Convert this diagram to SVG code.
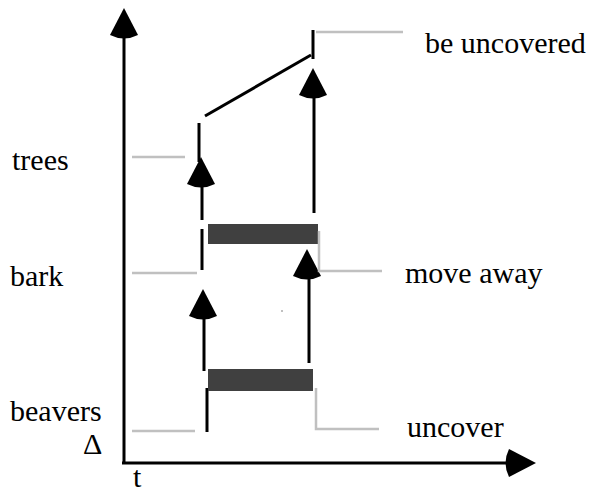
<svg xmlns="http://www.w3.org/2000/svg" xmlns:xlink="http://www.w3.org/1999/xlink" width="593" height="500" viewBox="0 0 593 500">
<style>
  .blk{stroke:#000;stroke-width:3;fill:none}
  .gry{stroke:#c0c0c0;stroke-width:2.5;fill:none}
  .bar{fill:#404040}
  .lbl{font-family:"Liberation Serif","Times New Roman",serif;font-size:30px;fill:#000}
  .head{fill:#000}
</style>
<defs>
  <path id="ah" class="head" d="M0,0 L-14,27 Q0,34 14,27 Z"/>
</defs>
<rect width="593" height="500" fill="#fff"/>
<g id="axes">
  <line class="blk" x1="124" y1="34" x2="124" y2="462"/>
  <use xlink:href="#ah" transform="translate(124,8)"/>
  <line class="blk" x1="122" y1="463" x2="510" y2="463"/>
  <use xlink:href="#ah" transform="translate(536,463) rotate(90)"/>
</g>
<g id="levels">
  <line class="gry" x1="132" y1="157" x2="185" y2="157"/>
  <line class="gry" x1="132" y1="273" x2="197" y2="273"/>
  <line class="gry" x1="132" y1="431" x2="195" y2="431"/>
  <rect x="281" y="310" width="2" height="2" fill="#c0c0c0"/>
</g>
<g id="beavers-track">
  <line class="blk" x1="207" y1="388" x2="207" y2="432"/>
  <rect class="bar" x="208" y="369" width="105" height="22"/>
</g>
<g id="bark-track">
  <line class="blk" x1="202" y1="229" x2="202" y2="270"/>
  <rect class="bar" x="208" y="224" width="110" height="20"/>
</g>
<g id="trees-track">
  <line class="blk" x1="199" y1="123" x2="199" y2="162"/>
  <line class="blk" x1="205" y1="116" x2="311" y2="55"/>
  <line class="blk" x1="313" y1="30" x2="313" y2="59"/>
</g>
<g id="connectors">
  <line class="blk" x1="202" y1="183" x2="202" y2="220"/>
  <use xlink:href="#ah" transform="translate(201,157)"/>
  <line class="blk" x1="204" y1="318" x2="204" y2="371"/>
  <use xlink:href="#ah" transform="translate(203,289)"/>
  <line class="blk" x1="309" y1="278" x2="309" y2="363"/>
  <use xlink:href="#ah" transform="translate(307,249)"/>
  <line class="blk" x1="314" y1="96" x2="314" y2="213"/>
  <use xlink:href="#ah" transform="translate(313,68)"/>
</g>
<g id="callouts">
  <line class="gry" x1="316" y1="32" x2="403" y2="32"/>
  <polyline class="gry" points="319,231 319,271 382,271"/>
  <polyline class="gry" points="316,388 316,429 379,429"/>
</g>
<g id="labels">
  <text class="lbl" x="12" y="170">trees</text>
  <text class="lbl" x="10" y="286">bark</text>
  <text class="lbl" x="10" y="421">beavers</text>
  <text class="lbl" x="83" y="454">Δ</text>
  <text class="lbl" x="133" y="487">t</text>
  <text class="lbl" x="425" y="53">be uncovered</text>
  <text class="lbl" x="405" y="283">move away</text>
  <text class="lbl" x="407" y="437">uncover</text>
</g>
</svg>
